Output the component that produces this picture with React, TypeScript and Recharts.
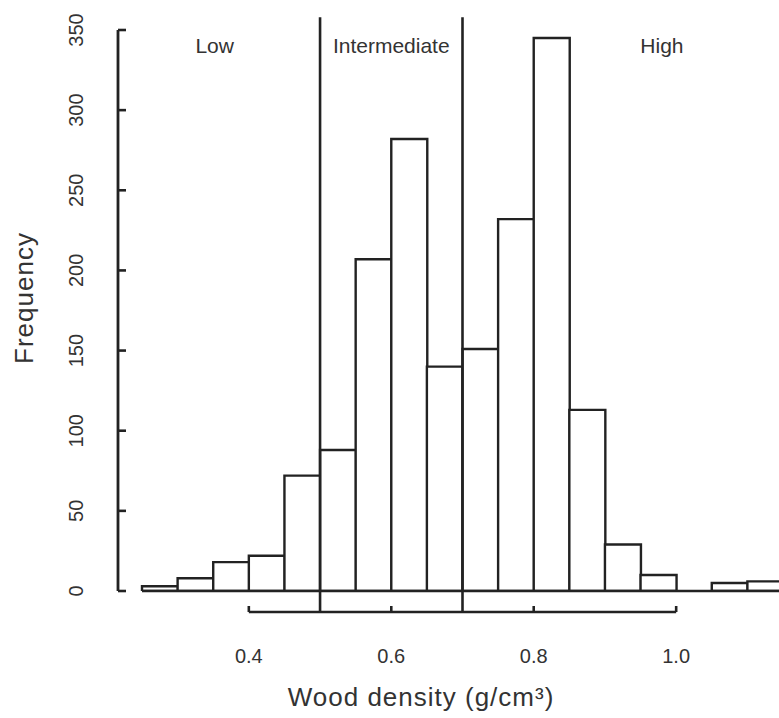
import { ComposedChart, Bar, XAxis, YAxis, ReferenceLine, ReferenceDot } from 'recharts'

// histogram bins (lower edge, g/cm3) and counts
const BIN_WIDTH = 0.05
const binStarts = [0.25, 0.3, 0.35, 0.4, 0.45, 0.5, 0.55, 0.6, 0.65, 0.7, 0.75, 0.8, 0.85, 0.9, 0.95, 1.0, 1.05, 1.1]
const counts = [3, 8, 18, 22, 72, 88, 207, 282, 140, 151, 232, 345, 113, 29, 10, 0, 5, 6]

const xTicks = [0.4, 0.6, 0.8, 1.0]
const yTicks = [0, 50, 100, 150, 200, 250, 300, 350]

// density classes
const classBreaks = [0.5, 0.7]
const classNames = ['Low', 'Intermediate', 'High']

// extent of the original plotting region, used to centre the class names
const PLOT_X_MIN = 0.204
const PLOT_X_MAX = 1.26
const CLASS_LABEL_Y = 340
const AXIS_Y = -13.1 // x axis sits a little below the bars
const BREAK_TOP = 358

const INK = '#222'
const TEXT = '#333'
const FONT = '"Liberation Sans", Arial, sans-serif'

const data = binStarts.map((s, i) => ({ bin: s.toFixed(2), lo: s, count: counts[i] }))
const xDomain = [binStarts[0], binStarts[binStarts.length - 1] + BIN_WIDTH]
const classEdges = [PLOT_X_MIN, ...classBreaks, PLOT_X_MAX]
const classMids = classNames.map((_, i) => (classEdges[i] + classEdges[i + 1]) / 2)

function YTick({ x, y, payload }: any) {
  return (
    <g>
      <line x1={x} x2={x + 8} y1={y} y2={y} stroke={INK} strokeWidth={2.6} />
      <text
        x={x - 35}
        y={y}
        transform={`rotate(-90 ${x - 35} ${y})`}
        textAnchor="middle"
        fontSize={20}
        fontFamily={FONT}
        fill={TEXT}
      >
        {payload.value}
      </text>
    </g>
  )
}

function XTick({ x, y, payload }: any) {
  return (
    <g>
      <line x1={x} x2={x} y1={y + 21} y2={y + 15} stroke={INK} strokeWidth={2.6} />
      <text x={x} y={y + 72} textAnchor="middle" fontSize={20} fontFamily={FONT} fill={TEXT}>
        {Number(payload.value).toFixed(1)}
      </text>
    </g>
  )
}

export default function App() {
  return (
    <div style={{ position: 'absolute', left: 0, top: 0, width: 779, height: 718, overflow: 'hidden', background: '#fff' }}>
      <ComposedChart
        width={800}
        height={718}
        data={data}
        barCategoryGap={0}
        barGap={0}
        margin={{ top: 30, right: 17, bottom: 0, left: 0 }}
      >
        <XAxis
          xAxisId="num"
          dataKey="lo"
          type="number"
          domain={xDomain}
          allowDataOverflow
          ticks={xTicks}
          padding={{ left: 24, right: 0 }}
          axisLine={false}
          tickLine={false}
          tickSize={0}
          tickMargin={0}
          height={127}
          tick={<XTick />}
          label={{
            content: () => (
              <text x={421} y={706} textAnchor="middle" fontSize={26} letterSpacing={1} fontFamily={FONT} fill={TEXT}>
                Wood density (g/cm³)
              </text>
            ),
          }}
        />
        <XAxis xAxisId="bins" dataKey="bin" type="category" hide height={0} padding={{ left: 24, right: 0 }} />
        <YAxis
          type="number"
          domain={[0, 350]}
          allowDataOverflow
          ticks={yTicks}
          width={118}
          axisLine={{ stroke: INK, strokeWidth: 2.8 }}
          tickLine={false}
          tickSize={0}
          tickMargin={0}
          tick={<YTick />}
          label={{
            content: () => (
              <text
                x={33}
                y={298}
                transform="rotate(-90 33 298)"
                textAnchor="middle"
                fontSize={26}
                letterSpacing={1}
                fontFamily={FONT}
                fill={TEXT}
              >
                Frequency
              </text>
            ),
          }}
        />
        <Bar xAxisId="bins" dataKey="count" fill="#fff" stroke={INK} strokeWidth={2.4} isAnimationActive={false} />
        <ReferenceLine
          xAxisId="num"
          segment={[{ x: xDomain[0], y: 0 }, { x: xDomain[1], y: 0 }]}
          stroke={INK}
          strokeWidth={2.4}
          ifOverflow="visible"
        />
        <ReferenceLine
          xAxisId="num"
          segment={[{ x: xTicks[0], y: AXIS_Y }, { x: xTicks[xTicks.length - 1], y: AXIS_Y }]}
          stroke={INK}
          strokeWidth={2.6}
          ifOverflow="visible"
        />
        {classBreaks.map((b) => (
          <ReferenceLine
            key={b}
            xAxisId="num"
            segment={[{ x: b, y: AXIS_Y }, { x: b, y: BREAK_TOP }]}
            stroke={INK}
            strokeWidth={2.6}
            ifOverflow="visible"
          />
        ))}
        {classNames.map((name, i) => (
          <ReferenceDot
            key={name}
            xAxisId="num"
            x={classMids[i]}
            y={CLASS_LABEL_Y}
            r={0}
            fill="none"
            stroke="none"
            ifOverflow="visible"
            label={{ value: name, position: 'center', fontSize: 21, fontFamily: FONT, fill: TEXT }}
          />
        ))}
      </ComposedChart>
    </div>
  )
}
